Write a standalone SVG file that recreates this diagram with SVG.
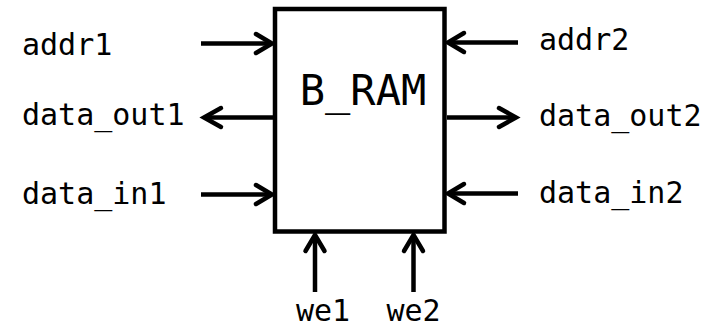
<svg xmlns="http://www.w3.org/2000/svg" width="722" height="328" viewBox="0 0 722 328">
<style>
.box{fill:#fff;stroke:#000;stroke-width:4.5}
.ln{fill:none;stroke:#000;stroke-width:4.5}
.hd{fill:none;stroke:#000;stroke-width:4.5;stroke-linecap:round;stroke-linejoin:miter}
.lb{font-family:"DejaVu Sans Mono","Liberation Mono",monospace;font-size:30px;fill:#000}
.ttl{font-family:"DejaVu Sans Mono","Liberation Mono",monospace;font-size:42px;fill:#000}
</style>
<rect width="722" height="328" fill="#fff"/>
<g id="connectors">
<line class="ln" x1="201" y1="43.5" x2="271" y2="43.5"/>
<polyline class="hd" points="256,34 272,43.5 256,53"/>
<line class="ln" x1="518" y1="42.5" x2="449" y2="42.5"/>
<polyline class="hd" points="464,33 448,42.5 464,52"/>
<line class="ln" x1="273" y1="117.5" x2="205" y2="117.5"/>
<polyline class="hd" points="221,108 204,117.5 221,127"/>
<line class="ln" x1="447" y1="117.5" x2="515" y2="117.5"/>
<polyline class="hd" points="499,108 516,117.5 499,127"/>
<line class="ln" x1="201" y1="194.5" x2="271" y2="194.5"/>
<polyline class="hd" points="256,185 272,194.5 256,204"/>
<line class="ln" x1="518" y1="193.5" x2="449" y2="193.5"/>
<polyline class="hd" points="464,184 448,193.5 464,203"/>
<line class="ln" x1="315" y1="292" x2="315" y2="236"/>
<polyline class="hd" points="305.5,251 315,235 324.5,251"/>
<line class="ln" x1="413.5" y1="292" x2="413.5" y2="236"/>
<polyline class="hd" points="404,251 413.5,235 423,251"/>
</g>
<g id="bram">
<rect class="box" x="275" y="9" width="169.5" height="222.5"/>
<text class="ttl" x="363" y="105" text-anchor="middle">B_RAM</text>
</g>
<g id="addr1"><text class="lb" x="22" y="55">addr1</text></g>
<g id="data_out1"><text class="lb" x="22" y="125">data_out1</text></g>
<g id="data_in1"><text class="lb" x="22" y="204">data_in1</text></g>
<g id="addr2"><text class="lb" x="539" y="50">addr2</text></g>
<g id="data_out2"><text class="lb" x="539" y="126">data_out2</text></g>
<g id="data_in2"><text class="lb" x="539" y="203">data_in2</text></g>
<g id="we1"><text class="lb" x="323" y="321" text-anchor="middle">we1</text></g>
<g id="we2"><text class="lb" x="413.5" y="321" text-anchor="middle">we2</text></g>
</svg>
